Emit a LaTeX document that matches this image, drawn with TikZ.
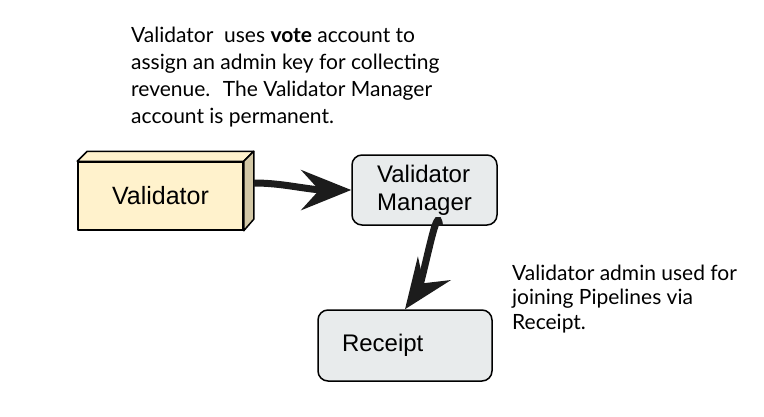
\documentclass[tikz,border=0pt]{standalone}
\usepackage{fontspec}
\setmainfont{Lato}
\newfontfamily\boxfont{Liberation Sans}
\usetikzlibrary{arrows.meta,bending,calc}

\definecolor{cubefront}{HTML}{FFF2CC}
\definecolor{cubeside}{HTML}{D3C8A6}
\definecolor{boxgray}{HTML}{E8EBEC}
\definecolor{linkgray}{HTML}{1C1C1C}

\begin{document}
\begin{tikzpicture}[
        x=1pt, y=-1pt,
        face/.style={draw=black, line width=1.5pt, line join=round},
        box/.style={draw=black, line width=1.5pt, rounded corners=10pt,
            fill=boxgray, font=\boxfont\fontsize{24}{28}\selectfont},
        link/.style={line width=7pt, draw=linkgray,
            -{Stealth[length=50pt,width=40pt,inset=18pt]}},
        note/.style={anchor=north west, inner sep=0pt, align=left},
    ]
    \useasboundingbox (0,0) rectangle (764,416);
    % notes
    \node[note, font=\fontsize{21}{27}\selectfont] at (131,27) (votenote)
        {Validator~ uses \textbf{vote} account to\\
         assign an admin key for collecting\\
         revenue.~ The Validator Manager\\
         account is permanent.};
    \node[note, font=\fontsize{21}{24.3}\selectfont] at (512,265) (adminnote)
        {Validator admin used for\\
         joining Pipelines via\\
         Receipt.};
    % validator cube
    \node[face, fill=cubefront, minimum width=165pt, minimum height=68pt,
        font=\boxfont\fontsize{25}{28}\selectfont] at (160.5,196) (valbox) {Validator};
    \draw[face, fill=cubefront] (valbox.north west) -- ++(10,-10)
        -- ($(valbox.north east)+(10,-10)$) -- (valbox.north east) -- cycle;
    \draw[face, fill=cubeside] (valbox.north east) -- ++(10,-10)
        -- ++(0,68) -- (valbox.south east) -- cycle;
    % boxes
    \node[box, minimum width=145pt, minimum height=70pt, align=left]
        at (424.5,190) (mgrbox) {Validator\\Manager};
    \node[box, minimum width=174pt, minimum height=71pt, text width=126pt,
        inner xsep=24pt, align=left] at (405,345.5) (rcptbox) {Receipt};
    % links
    \draw[link] ($(valbox.east)+(10,-13)$) to[out=0,in=185] (mgrbox.west);
    \draw[link] ([xshift=15pt]mgrbox.south) to[out=95,in=-75] (rcptbox.north);
\end{tikzpicture}
\end{document}
